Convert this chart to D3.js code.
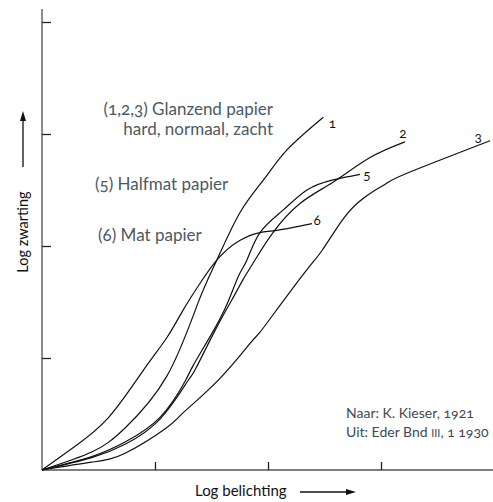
<!DOCTYPE html>
<html><head><meta charset="utf-8">
<script src="https://cdn.jsdelivr.net/npm/d3@7/dist/d3.min.js"></script>
<style>
body{margin:0;background:#fff}
svg{display:block;font-family:Lato,"Open Sans",sans-serif;font-variant-numeric:oldstyle-nums}
</style></head><body>
<svg id="c" width="493" height="502"></svg>
<script>
// ---- data (log exposure, log density) ----
const xTicks = [1, 2, 3];
const yTicks = [1, 2, 3, 4];
const curveIds = ["1", "2", "3", "5", "6"];
// (1) glanzend, hard
const curveHard = [[0,0],[0.44,0.16],[0.735,0.375],[1.106,0.84],[1.38,1.49],[1.55,1.88],[1.75,2.295],[1.96,2.59],[2.17,2.86],[2.49,3.15]];
// (2) glanzend, normaal
const curveNormaal = [[0,0],[0.44,0.11],[0.735,0.23],[1.044,0.455],[1.29,0.795],[1.363,0.91],[1.549,1.28],[1.681,1.52],[1.779,1.70],[1.885,1.875],[2.044,2.12],[2.283,2.38],[2.575,2.57],[2.903,2.79],[3.212,2.93]];
// (3) glanzend, zacht
const curveZacht = [[0,0],[0.44,0.07],[0.735,0.15],[1.106,0.38],[1.248,0.51],[1.558,0.80],[1.841,1.13],[1.929,1.23],[2.106,1.47],[2.345,1.79],[2.478,1.96],[2.65,2.22],[2.80,2.39],[2.95,2.50],[3.05,2.56],[3.23,2.65],[3.965,2.94]];
// (5) halfmat
const curveHalfmat = [[0,0],[0.44,0.12],[0.735,0.25],[1.044,0.47],[1.265,0.79],[1.336,0.93],[1.504,1.22],[1.637,1.48],[1.743,1.74],[1.814,1.875],[1.929,2.12],[2.133,2.32],[2.345,2.5],[2.575,2.59],[2.814,2.64]];
// (6) mat
const curveMat = [[0,0],[0.29,0.21],[0.59,0.47],[0.89,0.88],[1.11,1.19],[1.25,1.43],[1.40,1.67],[1.56,1.89],[1.75,2.05],[1.93,2.12],[2.08,2.14],[2.39,2.20]];
const curves = [curveHard, curveNormaal, curveZacht, curveHalfmat, curveMat];

const noteGlans = ["(1,2,3) Glanzend papier", "hard, normaal, zacht"];
const noteHalfmat = "(5) Halfmat papier";
const noteMat = "(6) Mat papier";
const sourceLines = ["Naar: K. Kieser, 1921", "Uit: Eder Bnd ", "III", ", 1 1930"];
const xTitle = "Log belichting";
const yTitle = "Log zwarting";

// ---- layout ----
const svg = d3.select("#c");
const x = d3.scaleLinear().domain([0, 4]).range([42, 494]);
const y = d3.scaleLinear().domain([0, 4]).range([470, 22]);
const noteColor = "#4b5a62";

// axes
svg.append("line").attr("x1", x(0)).attr("x2", x(0)).attr("y1", y(0)).attr("y2", 9)
  .attr("stroke", "#6f6f6f").attr("stroke-width", 1.6);
svg.append("line").attr("x1", x(0)).attr("x2", 493).attr("y1", y(0)).attr("y2", y(0))
  .attr("stroke", "#555").attr("stroke-width", 1.4);

const yAxis = svg.append("g").attr("transform", `translate(${x(0)},0)`)
  .call(d3.axisRight(y).tickValues(yTicks).tickSize(9).tickFormat(""));
const xAxis = svg.append("g").attr("transform", `translate(0,${y(0)})`)
  .call(d3.axisTop(x).tickValues(xTicks).tickSize(8).tickFormat(""));
[yAxis, xAxis].forEach(g => {
  g.select(".domain").remove();
  g.selectAll(".tick line").attr("stroke", "#222").attr("stroke-width", 1.3);
});

// curves
const line = d3.line().x(d => x(d[0])).y(d => y(d[1])).curve(d3.curveNatural);
svg.append("g").selectAll("path").data(curves).join("path")
  .attr("d", line).attr("fill", "none").attr("stroke", "#111").attr("stroke-width", 1.2);

// curve labels near end points
const labelOffset = {"1":[9,11], "2":[-2,-4], "3":[-12,1], "5":[7,6], "6":[5,1]};
svg.append("g").selectAll("text").data(curves).join("text")
  .attr("x", (d, i) => x(d[d.length-1][0]) + labelOffset[curveIds[i]][0])
  .attr("y", (d, i) => y(d[d.length-1][1]) + labelOffset[curveIds[i]][1])
  .attr("text-anchor", "middle").attr("font-size", 13.5).attr("fill", "#111")
  .text((d, i) => curveIds[i]);

// annotations
const notes = svg.append("g").attr("fill", noteColor).attr("font-size", 17);
notes.append("text").attr("x", 273).attr("y", 115).attr("text-anchor", "end").text(noteGlans[0]);
notes.append("text").attr("x", 273).attr("y", 135).attr("text-anchor", "end").text(noteGlans[1]);
notes.append("text").attr("x", 95).attr("y", 190).text(noteHalfmat);
notes.append("text").attr("x", 98).attr("y", 241).text(noteMat);

// source
const src = svg.append("g").attr("fill", "#3e4a50").attr("font-size", 14);
src.append("text").attr("x", 346).attr("y", 418).text(sourceLines[0]);
const t2 = src.append("text").attr("x", 346).attr("y", 437);
t2.append("tspan").text(sourceLines[1]);
t2.append("tspan").style("font-variant-caps", "all-small-caps").attr("font-size", 15).text(sourceLines[2]);
t2.append("tspan").text(sourceLines[3]);

// axis titles with arrows
svg.append("text").attr("x", 195).attr("y", 496).attr("font-size", 15).attr("fill", "#111").text(xTitle);
svg.append("text").attr("transform", "translate(28,232) rotate(-90)").attr("text-anchor", "middle")
  .attr("font-size", 14.5).attr("fill", "#111").text(yTitle);

svg.append("line").attr("x1", 300).attr("x2", 348).attr("y1", 492).attr("y2", 492).attr("stroke", "#111").attr("stroke-width", 1.3);
svg.append("path").attr("d", "M356,492 L346,489 L346,495 Z").attr("fill", "#111");
svg.append("line").attr("x1", 23).attr("x2", 23).attr("y1", 167).attr("y2", 119).attr("stroke", "#111").attr("stroke-width", 1.3);
svg.append("path").attr("d", "M23,111 L20,121 L26,121 Z").attr("fill", "#111");
</script>
</body></html>
